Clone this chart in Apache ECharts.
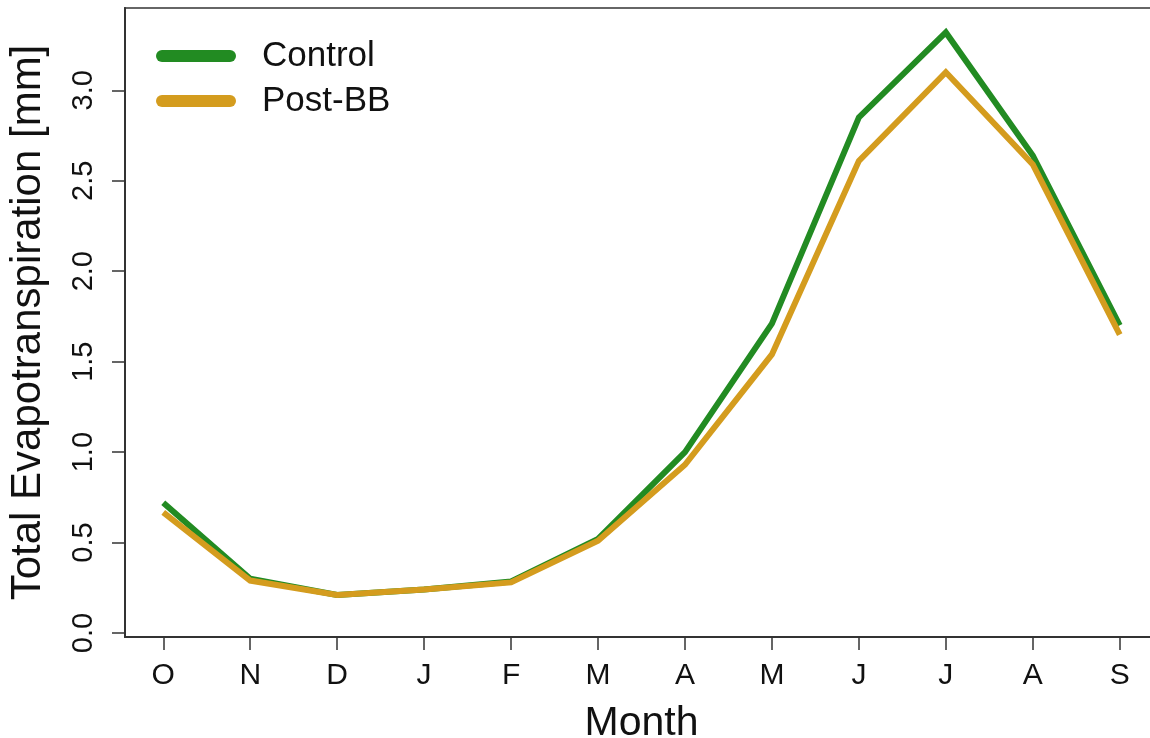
<!DOCTYPE html>
<html>
<head>
<meta charset="utf-8">
<script src="https://cdn.jsdelivr.net/npm/echarts@6/dist/echarts.min.js"></script>
<style>
html,body{margin:0;padding:0;background:#fff;}
#chart{width:1150px;height:738px;}
</style>
</head>
<body>
<div id="chart"></div>
<script>
const months = ['O','N','D','J','F','M','A','M','J','J','A','S'];
const control = [0.72, 0.30, 0.21, 0.24, 0.285, 0.52, 1.00, 1.71, 2.85, 3.32, 2.64, 1.70];
const postBB  = [0.667, 0.29, 0.21, 0.24, 0.28, 0.51, 0.93, 1.54, 2.61, 3.10, 2.59, 1.65];
const yTicks = [0, 0.5, 1.0, 1.5, 2.0, 2.5, 3.0];
const xTicks = months.map((m, i) => i);

const font = 'Liberation Sans, Arial, Helvetica, sans-serif';
const chart = echarts.init(document.getElementById('chart'), null, {renderer: 'canvas'});
const pill = 'path://M6,0 L74,0 A6,6 0 0 1 74,12 L6,12 A6,6 0 0 1 6,0 Z';

chart.setOption({
  animation: false,
  backgroundColor: '#fff',
  grid: {
    left: 125, top: 8, width: 1033, bottom: 101,
    outerBoundsMode: 'none', containLabel: false,
    show: true, borderColor: '#666', borderWidth: 2, backgroundColor: 'transparent'
  },
  legend: {
    left: 151, top: 33, orient: 'vertical',
    itemWidth: 82, itemHeight: 12, itemGap: 9,
    textStyle: {fontFamily: font, fontSize: 35, color: '#111', lineHeight: 36, padding: [0, 0, 0, 20]},
    data: [{name: 'Control', icon: pill}, {name: 'Post-BB', icon: pill}]
  },
  xAxis: {
    type: 'value', min: -0.44, max: 11.44,
    name: 'Month', nameLocation: 'middle', nameGap: 66,
    nameTextStyle: {fontFamily: font, fontSize: 41, color: '#111'},
    splitLine: {show: false},
    axisLine: {show: true, onZero: false, lineStyle: {color: '#333', width: 2}},
    axisTick: {show: true, length: 13, customValues: xTicks, lineStyle: {color: '#333', width: 1.5}},
    axisLabel: {
      customValues: xTicks, margin: 24,
      fontFamily: font, fontSize: 30, color: '#111',
      formatter: v => months[Math.round(v)]
    }
  },
  yAxis: {
    type: 'value', min: -0.022, max: 3.455,
    name: 'Total Evapotranspiration [mm]', nameLocation: 'middle', nameGap: 76, nameRotate: 90,
    nameTextStyle: {fontFamily: font, fontSize: 42, color: '#111'},
    splitLine: {show: false},
    axisLine: {show: true, onZero: false, lineStyle: {color: '#333', width: 2}},
    axisTick: {show: true, length: 13, customValues: yTicks, lineStyle: {color: '#333', width: 1.5}},
    axisLabel: {
      customValues: yTicks, margin: 27, rotate: 90,
      fontFamily: font, fontSize: 29, color: '#111',
      formatter: v => v.toFixed(1)
    }
  },
  series: [
    {
      name: 'Control', type: 'line', showSymbol: false, symbol: 'none',
      data: control.map((v, i) => [i, v]),
      lineStyle: {color: '#228B22', width: 6, join: 'miter'},
      itemStyle: {color: '#228B22'}
    },
    {
      name: 'Post-BB', type: 'line', showSymbol: false, symbol: 'none',
      data: postBB.map((v, i) => [i, v]),
      lineStyle: {color: '#D49C1E', width: 6, join: 'miter'},
      itemStyle: {color: '#D49C1E'}
    }
  ]
});
</script>
</body>
</html>
